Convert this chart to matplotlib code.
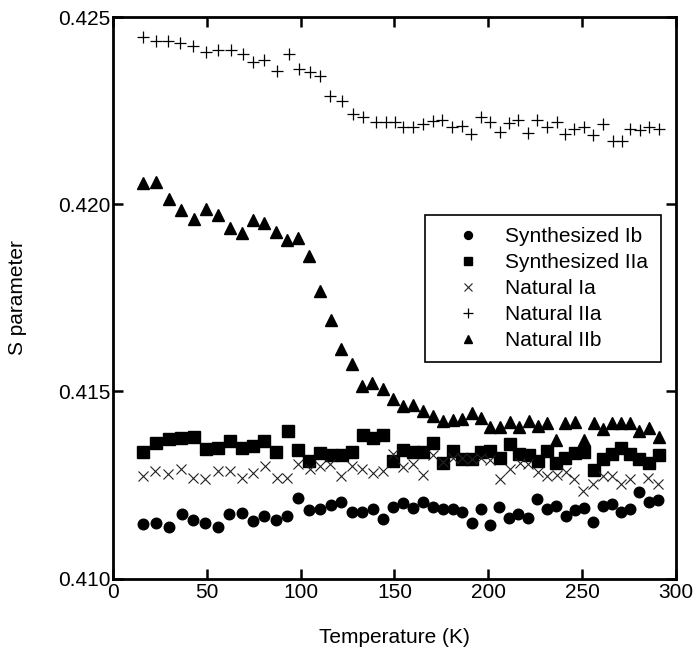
import matplotlib
matplotlib.use("Agg")
import matplotlib.pyplot as plt

plt.rcParams['font.family'] = ['Liberation Sans', 'DejaVu Sans']

# ---- Synthesized Ib (circles)
t_syn_ib = [16.1, 22.8, 30.0, 36.6, 42.8, 49.0, 55.8, 62.0, 68.6, 74.4, 80.6, 86.7, 92.6, 98.6,
            104.6, 110.3, 116.0, 121.5, 127.2, 132.8, 138.4, 144.0, 149.4, 154.7, 160.0, 165.3,
            170.4, 175.7, 181.0, 185.8, 191.1, 196.0, 200.9, 205.8, 211.2, 216.0, 221.3, 226.1,
            231.1, 236.1, 241.2, 246.2, 251.0, 255.9, 260.9, 265.7, 270.7, 275.5, 280.4, 285.6, 290.6]
s_syn_ib = [0.41145, 0.41148, 0.41139, 0.41172, 0.41156, 0.41148, 0.41139, 0.41172, 0.41175, 0.41154,
            0.41166, 0.41157, 0.41167, 0.41214, 0.41183, 0.41187, 0.41196, 0.41205, 0.41177, 0.41178,
            0.41185, 0.41159, 0.41191, 0.41203, 0.41188, 0.41205, 0.41190, 0.41185, 0.41185, 0.41178,
            0.41148, 0.41187, 0.41143, 0.41190, 0.41161, 0.41172, 0.41161, 0.41212, 0.41185, 0.41194,
            0.41167, 0.41183, 0.41188, 0.41150, 0.41193, 0.41199, 0.41178, 0.41185, 0.41231, 0.41205, 0.41209]

# ---- Synthesized IIa (squares)
t_syn_iia = [16.1, 22.9, 29.8, 36.4, 43.2, 49.6, 56.1, 62.3, 68.6, 74.8, 80.6, 86.9, 93.1, 98.7,
             104.6, 110.3, 116.2, 121.9, 127.5, 133.1, 138.4, 143.7, 149.4, 154.7, 160.0, 165.3,
             170.4, 175.7, 181.0, 186.0, 191.2, 195.9, 200.9, 206.2, 211.5, 216.5, 221.5, 226.3,
             231.1, 236.1, 240.8, 246.2, 251.0, 256.3, 260.9, 265.9, 270.5, 275.5, 280.4, 285.8, 291.1]
s_syn_iia = [0.41338, 0.41361, 0.41372, 0.41375, 0.41379, 0.41345, 0.41350, 0.41367, 0.41348, 0.41354,
             0.41367, 0.41337, 0.41394, 0.41343, 0.41314, 0.41335, 0.41329, 0.41329, 0.41337, 0.41383,
             0.41377, 0.41383, 0.41313, 0.41343, 0.41337, 0.41337, 0.41361, 0.41310, 0.41341, 0.41319,
             0.41319, 0.41337, 0.41341, 0.41323, 0.41359, 0.41332, 0.41329, 0.41314, 0.41341, 0.41308,
             0.41323, 0.41335, 0.41338, 0.41290, 0.41319, 0.41332, 0.41350, 0.41332, 0.41319, 0.41308, 0.41329]

# ---- Natural Ia (crosses)
t_nat_ia = [16.1, 22.4, 29.5, 36.2, 42.8, 49.0, 56.1, 62.3, 68.6, 74.8, 81.0, 87.2, 92.6, 98.7,
            105.0, 110.3, 115.6, 121.5, 127.2, 132.5, 138.4, 143.7, 149.0, 154.7, 160.0, 165.3,
            170.7, 175.7, 181.0, 186.0, 191.1, 195.9, 200.9, 206.2, 211.5, 216.9, 221.3, 226.6,
            231.1, 236.4, 241.2, 245.8, 250.6, 255.9, 260.9, 265.7, 270.7, 275.5, 285.3, 290.6]
s_nat_ia = [0.41274, 0.41287, 0.41279, 0.41292, 0.41270, 0.41267, 0.41287, 0.41287, 0.41270, 0.41283,
            0.41301, 0.41270, 0.41270, 0.41305, 0.41294, 0.41301, 0.41305, 0.41274, 0.41301, 0.41294,
            0.41281, 0.41287, 0.41332, 0.41299, 0.41305, 0.41276, 0.41329, 0.41311, 0.41323, 0.41323,
            0.41320, 0.41321, 0.41318, 0.41267, 0.41292, 0.41310, 0.41305, 0.41285, 0.41273, 0.41276,
            0.41285, 0.41265, 0.41234, 0.41252, 0.41273, 0.41274, 0.41252, 0.41265, 0.41270, 0.41252]

# ---- Natural IIa (plus)
t_nat_iia = [15.8, 22.9, 29.5, 35.7, 42.8, 49.6, 56.1, 62.9, 69.1, 74.8, 80.5, 87.2, 93.6, 99.3,
             105.0, 110.3, 115.6, 121.9, 128.0, 133.4, 140.1, 145.5, 150.3, 154.7, 160.0, 165.3,
             170.4, 175.3, 180.5, 185.8, 190.6, 195.9, 200.9, 206.2, 211.2, 216.0, 221.3, 226.1,
             231.1, 236.4, 240.8, 245.8, 251.1, 255.9, 260.9, 266.6, 271.1, 275.5, 280.8, 285.8, 291.1]
s_nat_iia = [0.42447, 0.42437, 0.42437, 0.42431, 0.42423, 0.42407, 0.42412, 0.42414, 0.42403, 0.42381,
             0.42385, 0.42357, 0.42403, 0.42361, 0.42354, 0.42343, 0.42289, 0.42277, 0.42243, 0.42234,
             0.42221, 0.42221, 0.42221, 0.42206, 0.42206, 0.42214, 0.42223, 0.42227, 0.42208, 0.42209,
             0.42188, 0.42233, 0.42221, 0.42194, 0.42217, 0.42227, 0.42190, 0.42225, 0.42206, 0.42221,
             0.42188, 0.42203, 0.42206, 0.42185, 0.42215, 0.42169, 0.42169, 0.42203, 0.42199, 0.42206, 0.42203]

# ---- Natural IIb (triangles)
t_nat_iib = [16.1, 22.9, 29.8, 36.4, 43.2, 49.6, 55.9, 62.3, 68.6, 74.8, 80.6, 86.9, 92.9, 98.7,
             104.6, 110.3, 116.0, 121.5, 127.2, 132.5, 138.0, 143.7, 149.4, 154.7, 159.7, 165.0,
             170.4, 175.7, 181.0, 186.0, 191.1, 195.9, 200.9, 206.2, 211.5, 216.5, 221.5, 226.3,
             231.1, 236.1, 240.8, 246.2, 251.0, 256.3, 260.9, 265.9, 270.5, 275.5, 280.4, 285.8, 291.1]
s_nat_iib = [0.42058, 0.42061, 0.42015, 0.41985, 0.41961, 0.41988, 0.41972, 0.41938, 0.41925, 0.41959,
             0.41951, 0.41927, 0.41905, 0.41911, 0.41863, 0.41769, 0.41690, 0.41614, 0.41574, 0.41516,
             0.41523, 0.41507, 0.41479, 0.41461, 0.41463, 0.41447, 0.41434, 0.41421, 0.41423, 0.41427,
             0.41443, 0.41430, 0.41405, 0.41406, 0.41418, 0.41405, 0.41421, 0.41407, 0.41417, 0.41369,
             0.41417, 0.41418, 0.41369, 0.41417, 0.41401, 0.41417, 0.41417, 0.41417, 0.41394, 0.41403, 0.41379]

labels = ["Synthesized Ib", "Synthesized IIa", "Natural Ia", "Natural IIa", "Natural IIb"]
x_ticks = [0, 50, 100, 150, 200, 250, 300]
y_ticks = [0.410, 0.415, 0.420, 0.425]
y_tick_labels = ["0.410", "0.415", "0.420", "0.425"]

fig = plt.figure(figsize=(6.93, 6.49), dpi=100)
ax = fig.add_axes([0.163, 0.1086, 0.8125, 0.8645])

ax.plot(t_syn_ib, s_syn_ib, 'o', color='black', markersize=7.6, label=labels[0])
ax.plot(t_syn_iia, s_syn_iia, 's', color='black', markersize=8.3, label=labels[1])
ax.plot(t_nat_ia, s_nat_ia, 'x', color='#222222', markersize=7.5, markeredgewidth=0.8, label=labels[2])
ax.plot(t_nat_iia, s_nat_iia, '+', color='black', markersize=9, markeredgewidth=0.9, label=labels[3])
ax.plot(t_nat_iib, s_nat_iib, '^', color='black', markersize=8, label=labels[4])

ax.set_xlim(0, 300)
ax.set_ylim(0.410, 0.425)
ax.set_xticks(x_ticks)
ax.set_xticklabels([str(v) for v in x_ticks])
ax.set_yticks(y_ticks)
ax.set_yticklabels(y_tick_labels)

for sp in ax.spines.values():
    sp.set_linewidth(2.0)
ax.tick_params(direction='in', length=7.5, width=1.8, top=True, right=True,
               labelsize=15, pad=2)
ax.tick_params(axis='x', pad=3)

ax.set_xlabel("Temperature (K)", fontsize=15, labelpad=19)
ax.set_ylabel("S parameter", fontsize=15, labelpad=22)

leg = ax.legend(loc='upper left', bbox_to_anchor=(0.554, 0.648), fontsize=15,
                frameon=True, fancybox=False, edgecolor='black', framealpha=1,
                markerscale=0.75, handletextpad=0.35, borderpad=0.6, labelspacing=0.33,
                handlelength=2.9, borderaxespad=0)
leg.get_frame().set_linewidth(1.2)

fig.savefig("out.png", dpi=100)
